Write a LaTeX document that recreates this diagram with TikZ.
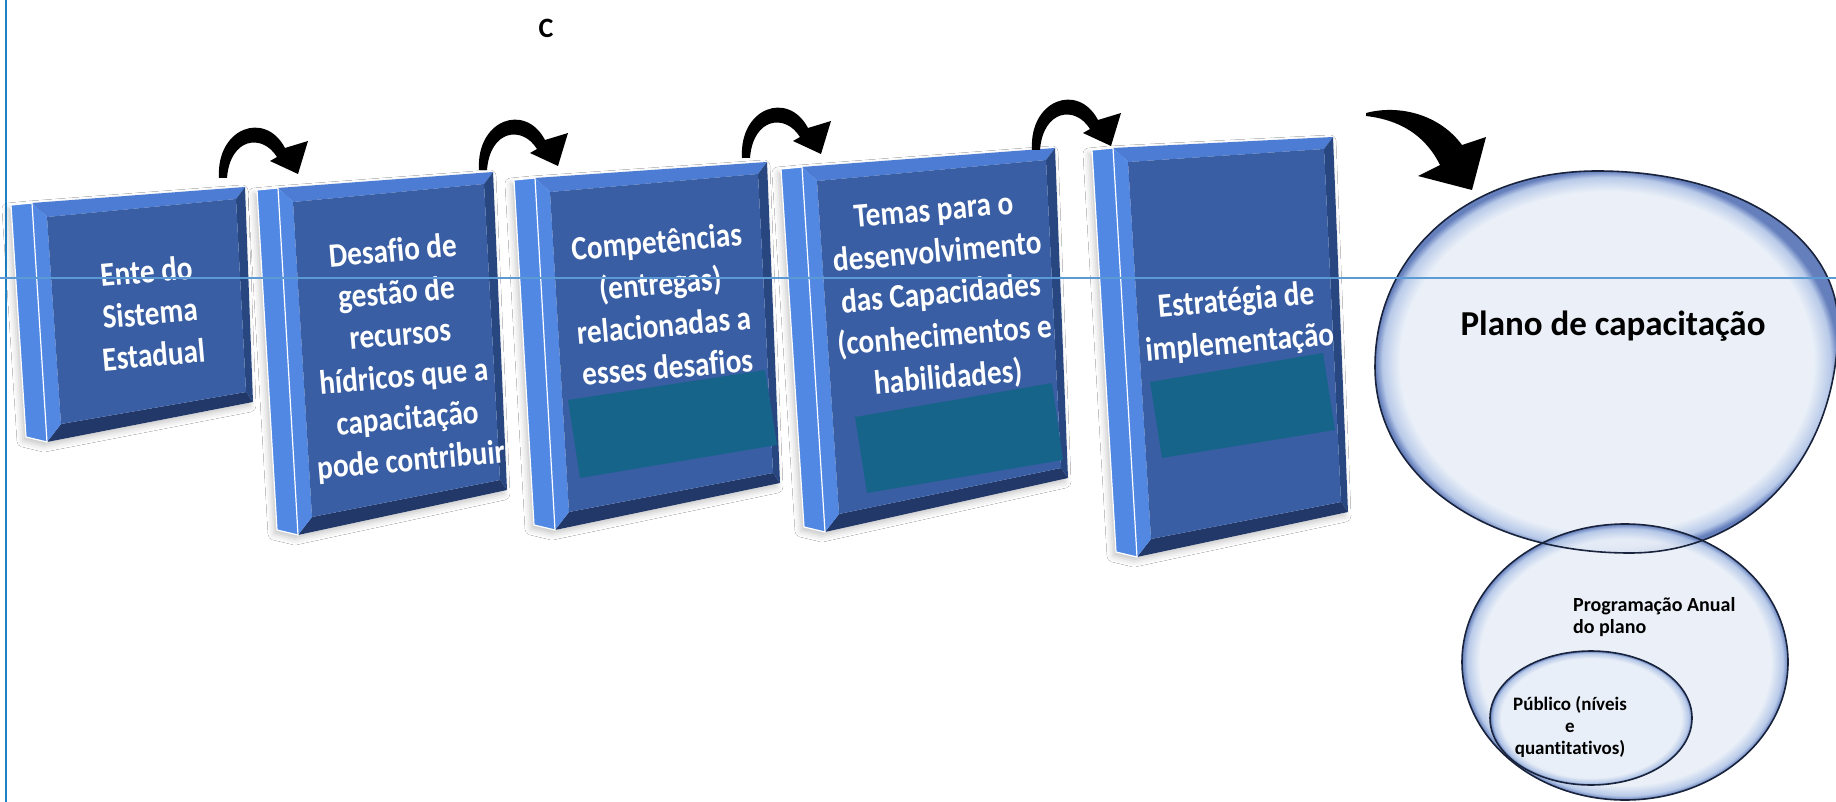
\documentclass[tikz,border=0pt]{standalone}
\usepackage{fontspec}
\setmainfont[Ligatures=CommonOff]{Carlito}
\newfontfamily\slabfont[FakeStretch=0.86,Ligatures=CommonOff]{Carlito}
\usetikzlibrary{calc,shadows.blur}
\definecolor{facec}{RGB}{58,94,164}
\definecolor{topc}{RGB}{76,124,212}
\definecolor{leftc}{RGB}{82,136,226}
\definecolor{rightc}{RGB}{40,70,128}
\definecolor{botc}{RGB}{33,56,104}
\definecolor{sidec}{RGB}{80,136,228}
\definecolor{tealc}{RGB}{23,100,138}
\definecolor{bubin}{RGB}{233,239,248}
\definecolor{bubmid}{RGB}{175,195,230}
\definecolor{bubedge}{RGB}{80,110,180}
\definecolor{bubline}{RGB}{25,35,60}
\definecolor{hlinec}{RGB}{91,155,213}
\definecolor{vlinec}{RGB}{30,130,200}
\pgfdeclareradialshading{bubble}{\pgfpoint{0bp}{0bp}}{color(0bp)=(bubin); color(22.3bp)=(bubin); color(24.2bp)=(bubmid); color(25bp)=(bubedge); color(50bp)=(bubedge)}
\newcommand\slab[5]{%
  \coordinate (#1-tl) at (#2); \coordinate (#1-tr) at (#3);
  \coordinate (#1-br) at (#4); \coordinate (#1-bl) at (#5);
  \coordinate (#1-stl) at ($(#1-tl)+(-21,2)$);
  \coordinate (#1-sbl) at ($(#1-bl)+(-21,-5)$);
  \coordinate (#1-itl) at ($(#1-tl)+(15,14)$);
  \coordinate (#1-itr) at ($(#1-tr)+(-9,12)$);
  \coordinate (#1-ibr) at ($(#1-br)+(-7,-10)$);
  \coordinate (#1-ibl) at ($(#1-bl)+(14,-18)$);
  \fill[white, blur shadow={shadow xshift=-3pt, shadow yshift=-4pt, shadow blur radius=6pt, shadow opacity=22}]
    (#1-stl) -- (#1-tl) -- (#1-tr) -- (#1-br) -- (#1-bl) -- (#1-sbl) -- cycle;
  \fill[sidec] (#1-stl) -- (#1-tl) -- (#1-bl) -- (#1-sbl) -- cycle;
  \fill[topc] (#1-tl) -- (#1-tr) -- (#1-itr) -- (#1-itl) -- cycle;
  \fill[rightc] (#1-tr) -- (#1-br) -- (#1-ibr) -- (#1-itr) -- cycle;
  \fill[botc] (#1-br) -- (#1-bl) -- (#1-ibl) -- (#1-ibr) -- cycle;
  \fill[leftc] (#1-bl) -- (#1-tl) -- (#1-itl) -- (#1-ibl) -- cycle;
  \fill[facec] (#1-itl) -- (#1-itr) -- (#1-ibr) -- (#1-ibl) -- cycle;
  \draw[white, line width=1.2] (#1-stl) -- (#1-tl) -- (#1-bl) -- (#1-sbl) -- cycle;
}
\tikzset{
  slabtext/.style={text=white, font=\slabfont\bfseries\fontsize{34}{42}\selectfont, align=center, rotate=5, inner sep=0pt},
  bubblefill/.style={shading=bubble, fill opacity=0.88},
  bubbleline/.style={draw=bubline, line width=1.6},
  curvarrow/.pic={\fill[black] (-1,0) .. controls (-4,-50) and (45,-68) .. (65,-30) -- (88,-37) -- (78,-4) -- (50,-17) -- (57,-21) .. controls (42,-45) and (10,-40) .. (7,0) -- cycle;},
  tealbox/.style={fill=tealc}
}
\begin{document}
\begin{tikzpicture}[x=1pt,y=-1pt]
\useasboundingbox (0,0) rectangle (1836,802);
\fill[white] (0,0) rectangle (1836,802);
\draw[vlinec, line width=2.2] (6,0) -- (6,802);

% boxes
\slab{b1}{32,203}{245,187}{253,402}{47,442}
\slab{b2}{278,188}{493,172}{507,490}{298,535}
\slab{b3}{535,178}{767,162}{780,483}{555,530}
\slab{b4}{802,167}{1055,148}{1068,478}{825,532}
\slab{b5}{1113,148}{1333,137}{1348,512}{1137,557}

\node[slabtext] (t1) at (150,313) {Ente do\\Sistema\\Estadual};
\node[slabtext] (t2) at (402,357) {Desafio de\\gestão de\\recursos\\hídricos que a\\capacitação\\pode contribuir};
\node[slabtext] (t3) at (662,304) {Competências\\(entregas)\\relacionadas a\\esses desafios};
\node[slabtext] (t4) at (941,296) {Temas para o\\desenvolvimento\\das Capacidades\\(conhecimentos e\\habilidades)};
\node[slabtext] (t5) at (1238,323) {Estratégia de\\implementação};

\fill[tealbox] (568,400) -- (765,370) -- (777,445) -- (580,478) -- cycle;
\fill[tealbox] (855,417) -- (1052,383) -- (1063,460) -- (867,493) -- cycle;
\fill[tealbox] (1150,382) -- (1323,353) -- (1335,430) -- (1162,458) -- cycle;

% curved arrows
\coordinate (a1) at (220,178);
\coordinate (a2) at (480,170);
\coordinate (a3) at (743,158);
\coordinate (a4) at (1033,150);
\pic at (a1) {curvarrow};
\pic at (a2) {curvarrow};
\pic at (a3) {curvarrow};
\pic at (a4) {curvarrow};
\coordinate (a5) at (1366,113);
\fill[black] (a5) .. controls (1400,104) and (1440,115) .. (1462,145) -- (1486,137) -- (1472,190) -- (1418,176) -- (1440,165) .. controls (1425,135) and (1400,120) .. (1366,116) -- cycle;

% bubbles
\def\bigoval{(1597,171) .. controls (1736,171) and (1838,236) .. (1838,325) .. controls (1838,457) and (1751,553) .. (1630,553) .. controls (1482,553) and (1375,475) .. (1375,367) .. controls (1375,253) and (1468,171) .. (1597,171) -- cycle}
\path[bubblefill] \bigoval;
\path[bubblefill] (1625,662) ellipse [x radius=163, y radius=138];
\path[bubblefill] (1591,718) ellipse [x radius=101, y radius=67];
\draw[bubbleline] \bigoval;
\draw[bubbleline] (1625,662) ellipse [x radius=163, y radius=138];
\draw[bubbleline] (1591,718) ellipse [x radius=101, y radius=67];

\node[anchor=base, inner sep=0pt, font=\bfseries\fontsize{35}{42}\selectfont] (plano) at (1613,335) {Plano de capacitação};
\node[anchor=north west, inner sep=0pt, align=left, font=\bfseries\fontsize{20}{22}\selectfont] (prog) at (1573,597) {Programação Anual\\do plano};
\node[anchor=north, inner sep=0pt, align=center, font=\bfseries\fontsize{19}{22}\selectfont] (pub) at (1570,696) {Público (níveis\\e\\quantitativos)};

\node[anchor=base, inner sep=0pt, font=\bfseries\fontsize{28}{32}\selectfont] (c) at (546,38) {C};

\draw[hlinec, line width=1.1] (0,278) -- (1836,278);
\end{tikzpicture}
\end{document}
